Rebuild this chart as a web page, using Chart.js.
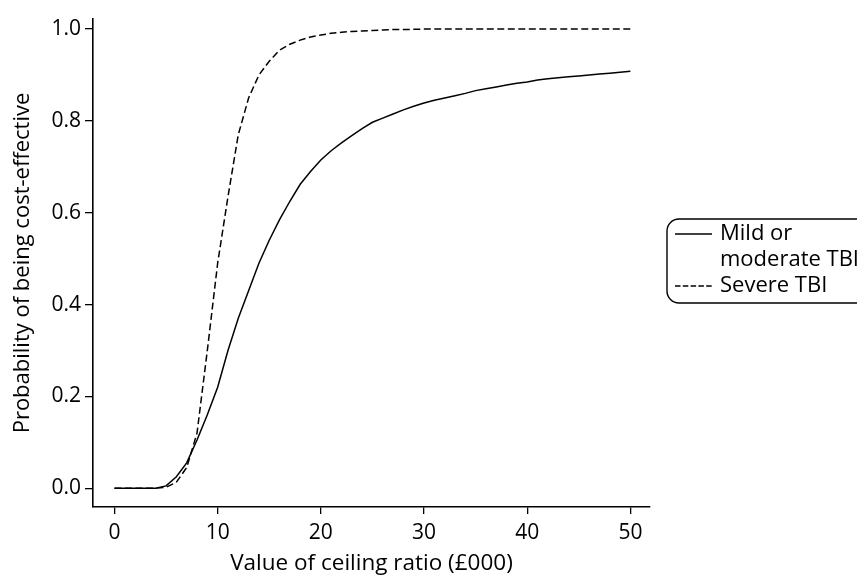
<!DOCTYPE html>
<html>
<head>
<meta charset="utf-8">
<script src="https://cdn.jsdelivr.net/npm/chart.js@4.4.1/dist/chart.umd.min.js"></script>
<style>
  html, body { margin: 0; padding: 0; background: #fff; }
  #wrap { width: 857px; height: 577px; position: relative; }
</style>
</head>
<body>
<div id="wrap"><canvas id="c" width="857" height="577"></canvas></div>
<script>
// ---- data ----
const ceilingRatio = [0,1,2,3,4,5,6,7,8,9,10,11,12,13,14,15,16,17,18,19,20,21,22,23,24,25,26,27,28,29,30,31,32,33,34,35,36,37,38,39,40,41,42,43,44,45,46,47,48,49,50];
const mildModerate = [0,0,0,0,0,0.005,0.025,0.055,0.105,0.16,0.22,0.30,0.37,0.43,0.49,0.54,0.585,0.625,0.662,0.69,0.715,0.735,0.752,0.768,0.783,0.797,0.806,0.815,0.824,0.832,0.839,0.845,0.85,0.855,0.86,0.866,0.87,0.874,0.878,0.882,0.885,0.889,0.892,0.894,0.896,0.898,0.90,0.902,0.904,0.906,0.908];
const severe = [0,0,0,0,0,0.002,0.013,0.045,0.12,0.30,0.49,0.635,0.77,0.85,0.90,0.93,0.954,0.967,0.976,0.983,0.987,0.991,0.993,0.995,0.996,0.997,0.998,0.999,0.999,0.9995,1,1,1,1,1,1,1,1,1,1,1,1,1,1,1,1,1,1,1,1,1];
const xTicks = [0,10,20,30,40,50];
const yTicks = [0,0.2,0.4,0.6,0.8,1.0];
const seriesNames = ["Mild or moderate TBI", "Severe TBI"];
const legendLines = [["Mild or", "moderate TBI"], ["Severe TBI"]];
const xTitle = "Value of ceiling ratio (£000)";
const yTitle = "Probability of being cost-effective";

const FONT = "'Open Sans', 'Noto Sans', sans-serif";

const pts = (ys) => ceilingRatio.map((x, i) => ({ x: x, y: ys[i] }));

const legendPlugin = {
  id: 'boxLegend',
  afterDraw(chart) {
    const ctx = chart.ctx;
    const x0 = 667, y0 = 219, w = 260, h = 84, r = 12;
    ctx.save();
    ctx.strokeStyle = '#000';
    ctx.lineWidth = 1.4;
    ctx.beginPath();
    ctx.moveTo(x0 + r, y0);
    ctx.lineTo(x0 + w - r, y0);
    ctx.arcTo(x0 + w, y0, x0 + w, y0 + r, r);
    ctx.lineTo(x0 + w, y0 + h - r);
    ctx.arcTo(x0 + w, y0 + h, x0 + w - r, y0 + h, r);
    ctx.lineTo(x0 + r, y0 + h);
    ctx.arcTo(x0, y0 + h, x0, y0 + h - r, r);
    ctx.lineTo(x0, y0 + r);
    ctx.arcTo(x0, y0, x0 + r, y0, r);
    ctx.closePath();
    ctx.stroke();
    ctx.font = "22px " + FONT;
    ctx.fillStyle = '#000';
    ctx.textBaseline = 'middle';
    ctx.textAlign = 'left';
    let ty = y0 + 15;
    const lh = 26;
    legendLines.forEach((lines, i) => {
      ctx.beginPath();
      ctx.setLineDash(i === 1 ? [5.5, 2.3] : []);
      ctx.lineWidth = 1.4;
      ctx.moveTo(675, ty);
      ctx.lineTo(712, ty);
      ctx.stroke();
      ctx.setLineDash([]);
      lines.forEach((t) => {
        ctx.fillText(t, 720, ty);
        ty += lh;
      });
    });
    ctx.restore();
  }
};

new Chart(document.getElementById('c'), {
  type: 'line',
  data: {
    datasets: [
      { label: seriesNames[0], data: pts(mildModerate), borderColor: '#000', borderWidth: 1.5, pointRadius: 0, tension: 0, fill: false },
      { label: seriesNames[1], data: pts(severe), borderColor: '#000', borderWidth: 1.5, borderDash: [7, 3.5], pointRadius: 0, tension: 0, fill: false }
    ]
  },
  options: {
    responsive: false,
    animation: false,
    events: [],
    layout: { padding: { top: 19, right: 207, bottom: 0, left: 0 } },
    plugins: { legend: { display: false }, tooltip: { enabled: false } },
    scales: {
      x: {
        type: 'linear',
        min: -2.08,
        max: 51.9,
        afterBuildTicks: (s) => { s.ticks = xTicks.map(v => ({ value: v })); },
        afterFit: (s) => { s.height = 70; },
        grid: { drawOnChartArea: false, drawTicks: true, tickLength: 7, color: '#000', lineWidth: 1.3 },
        border: { display: true, color: '#000', width: 1.6 },
        ticks: { color: '#000', font: { family: FONT, size: 21 }, padding: 6, maxRotation: 0, autoSkip: false },
        title: { display: true, text: xTitle, color: '#000', font: { family: FONT, size: 22.5 }, padding: { top: 0, bottom: 0 } }
      },
      y: {
        type: 'linear',
        min: -0.041,
        max: 1.022,
        afterBuildTicks: (s) => { s.ticks = yTicks.map(v => ({ value: v })); },
        afterFit: (s) => { s.width = 93; },
        grid: { drawOnChartArea: false, drawTicks: true, tickLength: 8, color: '#000', lineWidth: 1.3 },
        border: { display: true, color: '#000', width: 1.6 },
        ticks: { color: '#000', font: { family: FONT, size: 21 }, padding: 4, callback: (v) => Number(v).toFixed(1) },
        title: { display: true, text: yTitle, color: '#000', font: { family: FONT, size: 22 }, padding: { top: 10, bottom: 0 } }
      }
    }
  },
  plugins: [legendPlugin]
});
</script>
</body>
</html>
